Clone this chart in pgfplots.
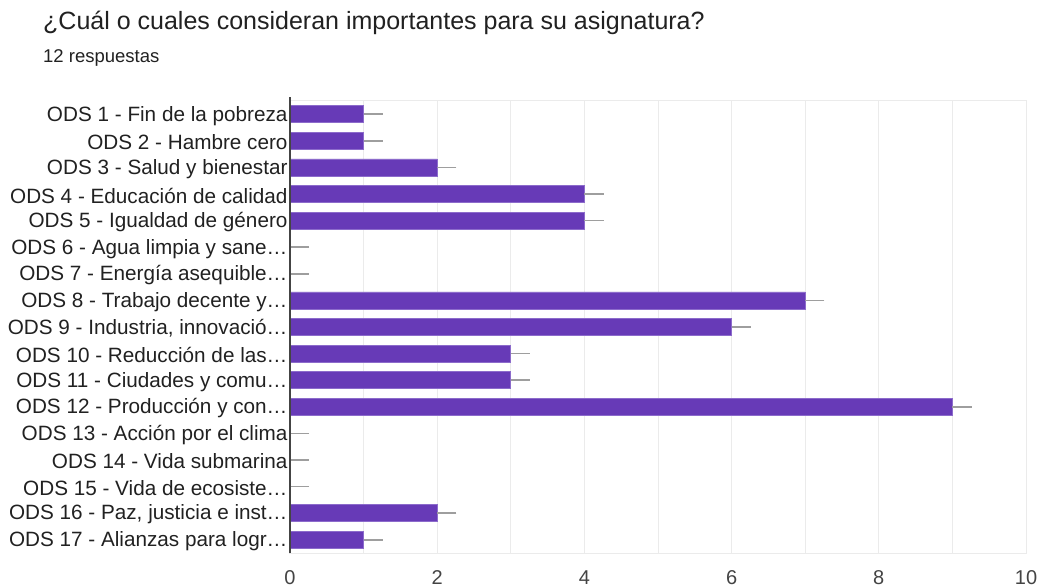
\documentclass[border=0pt]{standalone}
\usepackage{pgfplots}
\pgfplotsset{compat=1.18}
\usepackage{fontspec}
\setmainfont{Liberation Sans}
\definecolor{barfill}{HTML}{673AB7}
\definecolor{baredge}{HTML}{8C6BCB}
\definecolor{gridc}{HTML}{EBEBEB}
\definecolor{errc}{HTML}{9E9E9E}
\definecolor{txt}{HTML}{212121}
\definecolor{ticktxt}{HTML}{444444}
\begin{document}
\begin{tikzpicture}[x=1pt,y=1pt]
\useasboundingbox[fill=white] (0,0) rectangle (1039,588);
\node[anchor=base west, text=txt, font=\fontsize{25}{29}\selectfont, inner sep=0] at (43,558) {¿Cuál o cuales consideran importantes para su asignatura?};
\node[anchor=base west, text=txt, font=\fontsize{18.5}{21}\selectfont, inner sep=0] at (43,525) {12 respuestas};
\begin{axis}[
  at={(290pt,35pt)}, anchor=south west,
  scale only axis, width=736pt, height=452pt,
  xbar, bar width=17pt,
  xmin=0, xmax=10, ymin=-0.5, ymax=16.5,
  y dir=reverse,
  xtick={0,2,...,10}, minor xtick={1,3,...,9},
  ytick={0,...,16},
  yticklabels={{ODS 1 - Fin de la pobreza},{ODS 2 - Hambre cero},{ODS 3 - Salud y bienestar},{ODS 4 - Educación de calidad},{ODS 5 - Igualdad de género},{ODS 6 - Agua limpia y sane…},{ODS 7 - Energía asequible…},{ODS 8 - Trabajo decente y…},{ODS 9 - Industria, innovació…},{ODS 10 - Reducción de las…},{ODS 11 - Ciudades y comu…},{ODS 12 - Producción y con…},{ODS 13 - Acción por el clima},{ODS 14 - Vida submarina},{ODS 15 - Vida de ecosiste…},{ODS 16 - Paz, justicia e inst…},{ODS 17 - Alianzas para logr…}},
  major tick length=0, minor tick length=0,
  xmajorgrids, xminorgrids,
  major grid style={gridc, line width=1pt},
  minor grid style={gridc, line width=1pt},
  axis line style={gridc, line width=1pt},
  /pgf/number format/assume math mode=true,
  xticklabel style={font=\fontsize{20}{22}\selectfont, text=ticktxt, yshift=-14pt},
  yticklabel style={font=\fontsize{20.7}{23}\selectfont, text=txt, xshift=1pt, yshift=-1.5pt},
  clip=false,
]
\addplot[fill=barfill, draw=baredge, line width=0.8pt,
  error bars/.cd, x dir=plus, x fixed=0.26, error mark=none,
  error bar style={errc, line width=1.6pt}]
  coordinates {(1,0) (1,1) (2,2) (4,3) (4,4) (0,5) (0,6) (7,7) (6,8) (3,9) (3,10) (9,11) (0,12) (0,13) (0,14) (2,15) (1,16)};
\draw[ticktxt, line width=1.5pt] (axis cs:0,16.5) -- (axis cs:0,-0.65);
\end{axis}
\end{tikzpicture}
\end{document}
